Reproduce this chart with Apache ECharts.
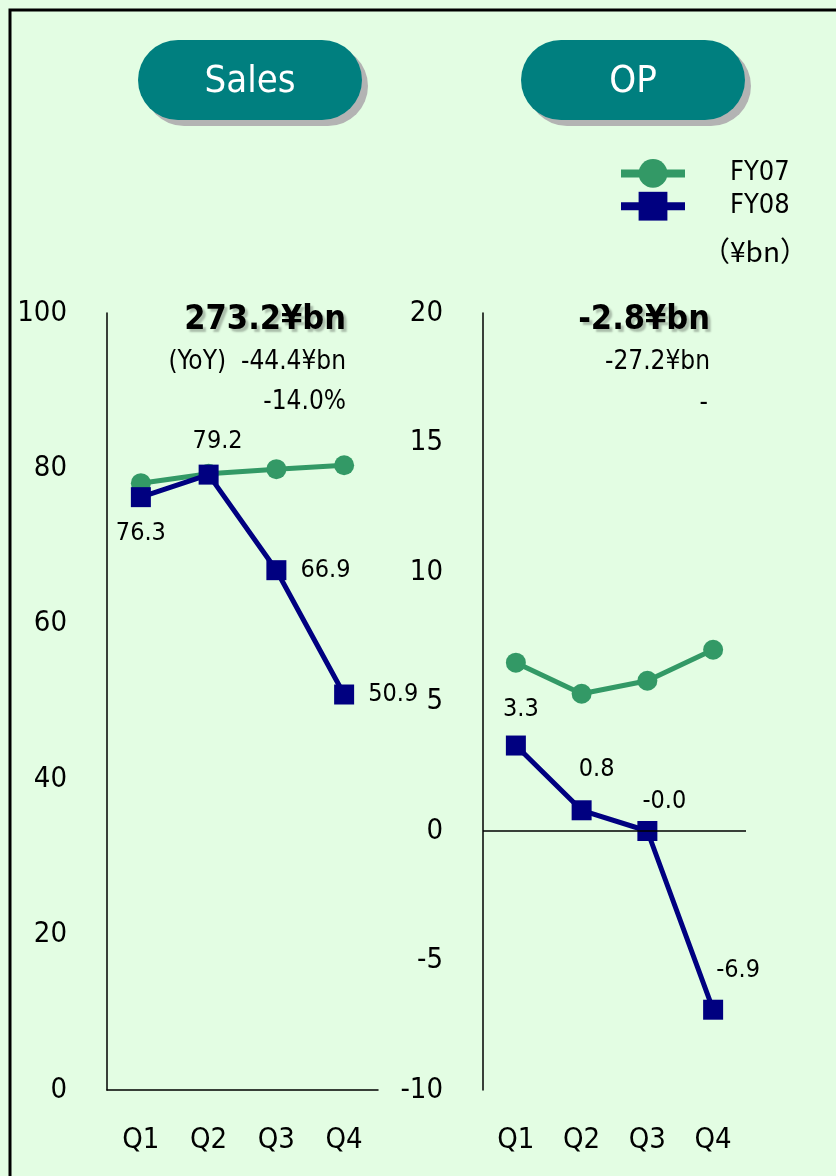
<!DOCTYPE html>
<html>
<head>
<meta charset="utf-8">
<script src="https://cdn.jsdelivr.net/npm/echarts@6/dist/echarts.min.js"></script>
<style>
  html, body { margin: 0; padding: 0; background: #e3fde3; }
  #chart { width: 836px; height: 1176px; }
</style>
</head>
<body>
<div id="chart"></div>
<script>
// quarters on both panels
var quarters = ["Q1", "Q2", "Q3", "Q4"];
// sales (¥bn)
var salesFY07 = [78.1, 79.3, 79.9, 80.4];
var salesFY08 = [76.3, 79.2, 66.9, 50.9];
// operating profit (¥bn)
var opFY07 = [6.5, 5.3, 5.8, 7.0];
var opFY08 = [3.3, 0.8, -0.0, -6.9];
// label placement for FY08 values: [position, offset]
var salesLabelPos = [["bottom", [0, 0]], ["top", [9, 3]], ["right", [0, 0]], ["right", [0, 0]]];
var opLabelPos = [["top", [5, 0]], ["top", [15, -4]], ["top", [17, 7]], ["top", [25, -3]]];

var FONT = "'Liberation Sans Narrow', 'DejaVu Sans Condensed', 'Liberation Sans', sans-serif";
var GREEN = "#339966";
var NAVY = "#000080";

var chart = echarts.init(document.getElementById("chart"));

function fy08Data(vals, pos) {
    return vals.map(function (v, i) {
        return {
            value: v,
            label: { position: pos[i][0], offset: pos[i][1], distance: 14 }
        };
    });
}

function pill(x, text) {
    return [
        {
            type: "rect",
            shape: { x: x + 6, y: 46, width: 224, height: 80, r: 40 },
            style: { fill: "#b3b3b3" }
        },
        {
            type: "rect",
            shape: { x: x, y: 40, width: 224, height: 80, r: 40 },
            style: { fill: "#007f7f" }
        },
        {
            type: "text",
            x: x + 112, y: 82,
            style: { text: text, fill: "#fff", font: "38px " + FONT, align: "center", verticalAlign: "middle" }
        }
    ];
}

function txt(x, y, text, size, big) {
    return {
        type: "text",
        x: x, y: y,
        style: {
            text: text, fill: "#000", align: "right", verticalAlign: "middle",
            font: (big ? "bold " : "") + size + "px " + FONT,
            textShadowColor: big ? "rgba(0,0,0,0.25)" : null,
            textShadowOffsetX: big ? 3 : 0,
            textShadowOffsetY: big ? 3 : 0,
            textShadowBlur: big ? 2 : 0
        }
    };
}

var axisLabelStyle = { color: "#000", fontSize: 29, fontFamily: FONT };

chart.setOption({
    backgroundColor: "#e3fde3",
    animation: false,
    textStyle: { fontFamily: FONT },
    legend: {
        orient: "vertical",
        left: 612,
        top: 154,
        itemWidth: 64,
        itemHeight: 36,
        itemGap: 4,
        selectedMode: false,
        data: ["FY07", "FY08"],
        lineStyle: { width: 8 },
        textStyle: { color: "#000", fontSize: 27, fontFamily: FONT, padding: [4, 0, 0, 40] }
    },
    grid: [
        { left: 107, top: 313, width: 271, height: 777 },
        { left: 483, top: 313, width: 263, height: 777 }
    ],
    xAxis: [
        {
            gridIndex: 0, type: "category", data: quarters,
            axisLine: { lineStyle: { color: "#000", width: 1.5 } },
            axisTick: { show: false },
            axisLabel: Object.assign({ margin: 36 }, axisLabelStyle)
        },
        {
            gridIndex: 1, type: "category", data: quarters,
            axisLine: { show: false, onZero: false },
            axisTick: { show: false },
            axisLabel: Object.assign({ margin: 36 }, axisLabelStyle)
        }
    ],
    yAxis: [
        {
            gridIndex: 0, type: "value", min: 0, max: 100, interval: 20,
            axisLine: { show: true, lineStyle: { color: "#000", width: 1.5 } },
            axisTick: { show: false },
            splitLine: { show: false },
            axisLabel: Object.assign({ margin: 40 }, axisLabelStyle)
        },
        {
            gridIndex: 1, type: "value", min: -10, max: 20, interval: 5,
            axisLine: { show: true, lineStyle: { color: "#000", width: 1.5 } },
            axisTick: { show: false },
            splitLine: { show: false },
            axisLabel: Object.assign({ margin: 40 }, axisLabelStyle)
        }
    ],
    series: [
        {
            name: "FY07", type: "line", xAxisIndex: 0, yAxisIndex: 0,
            data: salesFY07, symbol: "circle", symbolSize: 20,
            lineStyle: { color: GREEN, width: 5 }, itemStyle: { color: GREEN }
        },
        {
            name: "FY08", type: "line", xAxisIndex: 0, yAxisIndex: 0,
            data: fy08Data(salesFY08, salesLabelPos), symbol: "rect", symbolSize: 20,
            lineStyle: { color: NAVY, width: 5 }, itemStyle: { color: NAVY },
            label: { show: true, color: "#000", fontSize: 25, fontFamily: FONT,
                formatter: function (p) { return p.value.toFixed(1); } }
        },
        {
            name: "FY07", type: "line", xAxisIndex: 1, yAxisIndex: 1,
            data: opFY07, symbol: "circle", symbolSize: 20,
            lineStyle: { color: GREEN, width: 5 }, itemStyle: { color: GREEN },
            markLine: {
                silent: true, symbol: "none", label: { show: false },
                lineStyle: { color: "#000", width: 1.5, type: "solid" },
                data: [{ yAxis: 0 }]
            }
        },
        {
            name: "FY08", type: "line", xAxisIndex: 1, yAxisIndex: 1,
            data: fy08Data(opFY08, opLabelPos), symbol: "rect", symbolSize: 20,
            lineStyle: { color: NAVY, width: 5 }, itemStyle: { color: NAVY },
            label: { show: true, color: "#000", fontSize: 25, fontFamily: FONT,
                formatter: function (p) { return p.value === 0 ? "-0.0" : p.value.toFixed(1); } }
        }
    ],
    graphic: [
        {
            type: "rect",
            shape: { x: 10, y: 10, width: 840, height: 1180 },
            style: { fill: null, stroke: "#000", lineWidth: 3 }
        },
        { type: "text", x: 808, y: 251,
          style: { text: "（¥bn）", fill: "#000", font: "28px 'Noto Sans CJK JP', " + FONT, align: "right", verticalAlign: "middle" } }
    ]
        .concat(pill(138, "Sales"))
        .concat(pill(521, "OP"))
        .concat([
            txt(346, 320, "273.2¥bn", 34, true),
            txt(346, 362, "(YoY)  -44.4¥bn", 26, false),
            txt(346, 402, "-14.0%", 26, false),
            txt(710, 320, "-2.8¥bn", 34, true),
            txt(710, 362, "-27.2¥bn", 26, false),
            txt(708, 403, "-", 26, false)
        ])
});
</script>
</body>
</html>
